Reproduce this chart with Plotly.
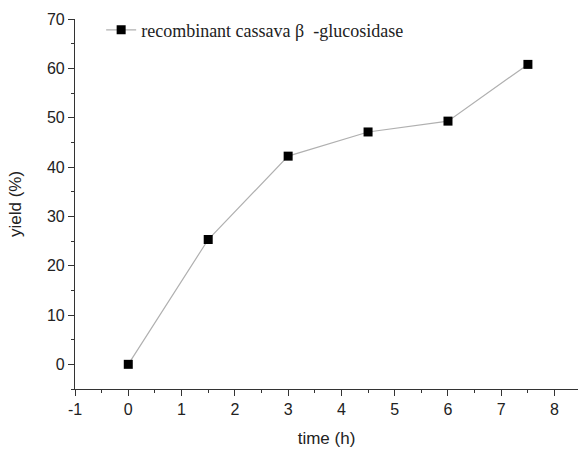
import plotly.graph_objects as go

time_h = [0, 1.5, 3, 4.5, 6, 7.5]
yield_pct = [0.0, 25.3, 42.2, 47.1, 49.3, 60.8]
series_name = "recombinant cassava β  -glucosidase"
x_ticks = [-1, 0, 1, 2, 3, 4, 5, 6, 7, 8]
x_tick_labels = ["-1", "0", "1", "2", "3", "4", "5", "6", "7", "8"]
y_ticks = [0, 10, 20, 30, 40, 50, 60, 70]

fig = go.Figure()
fig.add_trace(go.Scatter(
    x=time_h, y=yield_pct, mode="lines+markers", name=series_name,
    line=dict(color="#b0b0b0", width=1.2),
    marker=dict(symbol="square", size=9, color="black"),
))

axis_common = dict(
    showgrid=False, zeroline=False, showline=True, linecolor="#333333", linewidth=1.2,
    ticks="outside", ticklen=6, tickwidth=1.2, tickcolor="#333333",
    tickfont=dict(family="Liberation Sans, Arial", size=16, color="#222222"),
)
fig.update_xaxes(range=[-1, 8.44], tickvals=x_ticks, ticktext=x_tick_labels, **axis_common,
                 minor=dict(ticks="outside", ticklen=3, dtick=0.5, tick0=0, tickcolor="#333333"),
                 title=dict(text="time (h)", font=dict(family="Liberation Sans, Arial", size=17, color="#222222"), standoff=14))
fig.update_yaxes(range=[-5, 70], tickvals=y_ticks, **axis_common,
                 minor=dict(ticks="outside", ticklen=3, dtick=5, tick0=0, tickcolor="#333333"),
                 title=dict(text="yield (%)", font=dict(family="Liberation Sans, Arial", size=17, color="#222222"), standoff=20))

fig.update_layout(
    width=578, height=450, margin=dict(l=75, r=0, t=19, b=61),
    plot_bgcolor="white", paper_bgcolor="white",
    showlegend=True,
    legend=dict(x=0.052, y=1.02, xanchor="left", yanchor="top", bgcolor="rgba(0,0,0,0)",
                font=dict(family="Liberation Serif, Times New Roman", size=18, color="#222222")),
)
fig.write_html("out.html")
